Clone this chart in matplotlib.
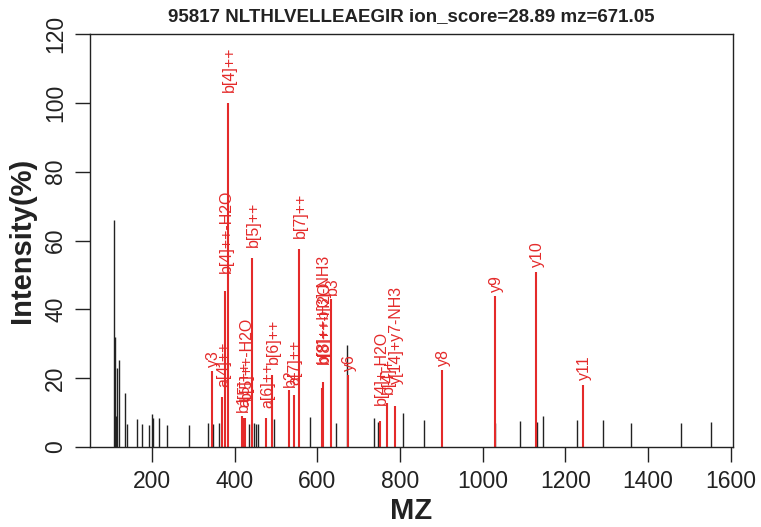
import matplotlib
matplotlib.use("Agg")
import matplotlib.pyplot as plt

plt.rcParams['font.family'] = ['Liberation Sans', 'DejaVu Sans']

title = "95817 NLTHLVELLEAEGIR ion_score=28.89 mz=671.05"

# unmatched peaks (black)
other_mz = [108, 110.6, 113, 116, 120, 134.6, 140, 164, 175, 193, 199, 202, 218, 236,
            290, 335, 347.7, 362, 435.7, 447.8, 451, 455.9, 494.6, 583, 645, 671.5,
            736, 746.6, 807, 857, 1031, 1091, 1131, 1146, 1227, 1290, 1360, 1479.5, 1551.4]
other_int = [66, 32, 9, 23, 25.3, 15.6, 6.6, 8, 6.6, 6.3, 9.5, 8.5, 8.3, 6.4,
             6.4, 6.9, 6.7, 7.1, 6.6, 7, 6.8, 6.6, 8, 8.6, 7, 29.6,
             8.3, 7.4, 9.8, 7.8, 7, 7.5, 7.2, 9, 7.8, 7.7, 7.1, 6.9, 7.2]

# matched peaks (red) with their ion labels
ion_mz = [344.6, 370.3, 376.8, 385.0, 417.0, 421.0, 425.0, 441.5, 476.9, 490.4,
          531.8, 542.5, 556.0, 611.0, 614.0, 633.5, 674.7, 752.0, 768.8, 788.5,
          901.6, 1030.7, 1130.0, 1243.0]
ion_int = [22.2, 14.4, 45.3, 100, 9.0, 8.5, 8.5, 55, 8.3, 21,
           16.5, 15, 57.6, 17, 19, 43, 20.9, 7.6, 12.7, 12,
           22.4, 44, 50.8, 18]
ion_lab = ["y3", "a[4]++", "b[4]++-H2O", "b[4]++", "b1", "a[5]++", "b[5]++-H2O", "b[5]++",
           "a[6]++", "b[6]++", "b2", "a[7]++", "b[7]++", "b[8]++b[3]-NH3", "b[8]++-H2O",
           "b3", "y6", "b[4]+-H2O", "b[4]+", "y[14]+y7-NH3", "y8", "y9", "y10", "y11"]

red = '#e42a2a'

fig = plt.figure(figsize=(7.61, 5.27), dpi=100)
ax = fig.add_axes([90 / 761, 80 / 527, 643 / 761, 413 / 527])

ax.vlines(other_mz, 0, other_int, colors='#222222', lw=1.0)
ax.vlines(ion_mz, 0, ion_int, colors=red, lw=1.5)

# labels sit above each matched peak, longer names a bit higher
for m, h, lab in zip(ion_mz, ion_int, ion_lab):
    ax.annotate(lab, (m, h), xytext=(1, 1.3 * len(lab)), textcoords='offset points',
                rotation=90, ha='center', va='bottom', color=red, fontsize=11.5)

ax.set_xlim(50, 1605.6)
ax.set_ylim(0, 120)
ax.set_xticks(range(200, 1601, 200))
ax.set_yticks(range(0, 121, 20))
ax.tick_params(direction='out', length=10.5, width=1.0, labelsize=16.5, pad=6, colors='#222222')
for lbl in ax.get_yticklabels():
    lbl.set_rotation(90)
    lbl.set_va('center')
for s in ax.spines.values():
    s.set_linewidth(1.0)
    s.set_color('#222222')

ax.set_xlabel("MZ", fontsize=21, fontweight='bold', labelpad=3, color='#222222')
ax.set_ylabel("Intensity(%)", fontsize=21, fontweight='bold', labelpad=6, color='#222222')
fig.text(411 / 761, 1 - 17 / 527, title, ha='center', va='center', fontsize=13.5,
         fontweight='bold', color='#222222')

fig.savefig("out.png", dpi=100)
